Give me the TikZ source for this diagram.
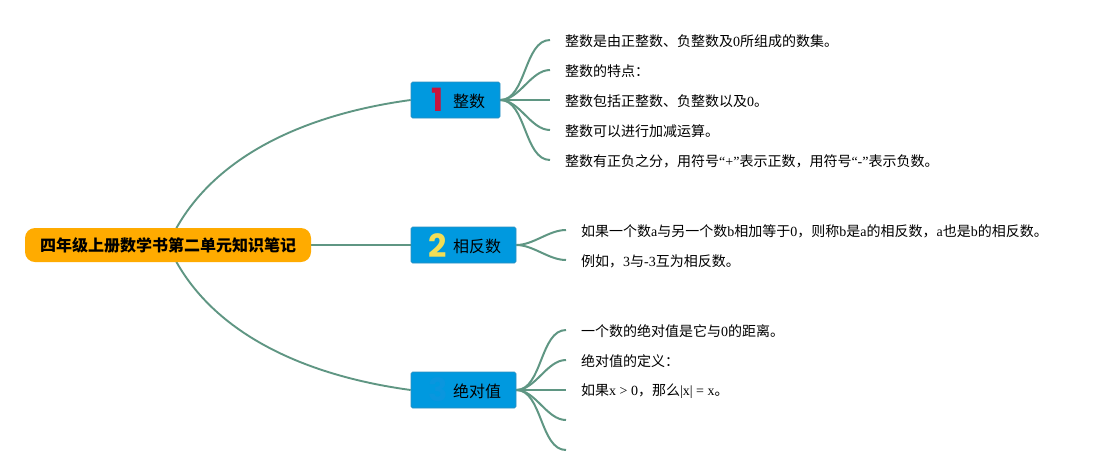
\documentclass[tikz,border=0pt]{standalone}
\usepackage{fontspec}
\setmainfont{Noto Sans CJK SC}
\newfontfamily\latfont{Liberation Serif}
\newfontfamily\iconfont{Poppins}[BoldFont={Poppins Bold}]
\newcommand{\lat}[1]{{\latfont #1}}
\usetikzlibrary{backgrounds}
\definecolor{rootfill}{HTML}{FFAB00}
\definecolor{topicfill}{HTML}{0099DF}
\definecolor{topicline}{HTML}{2E8FBF}
\definecolor{linkcol}{HTML}{5F9683}
\definecolor{iconred}{HTML}{C8143C}
\definecolor{iconyellow}{HTML}{F2DE55}
\definecolor{iconblue}{HTML}{0A96DE}
\tikzset{
  x=1pt,y=-1pt,
  rootbox/.style={fill=rootfill,rounded corners=10pt,minimum width=286pt,minimum height=34pt,inner sep=0pt,
    font=\fontsize{16}{16}\selectfont\bfseries,text=black},
  topicbox/.style={fill=topicfill,draw=topicline,line width=0.6pt,rounded corners=1.5pt,minimum height=36pt,inner sep=0pt},
  topiclabel/.style={font=\fontsize{16}{16}\selectfont,text=black,inner sep=0pt,anchor=west},
  iconmark/.style={font=\iconfont\bfseries\fontsize{32}{32}\selectfont,inner sep=0pt},
  leaf/.style={font=\fontsize{14}{14}\selectfont,text=black,anchor=west,inner ysep=0pt,inner xsep=15pt},
  mainlink/.style={draw=linkcol,line width=1.9pt},
  branch/.style={draw=linkcol,line width=2pt,out=0,in=180,looseness=0.85},
}
\begin{document}
\begin{tikzpicture}
\useasboundingbox (0,0) rectangle (1108,475);
% root and topics
\node[rootbox] (root) at (168,245) {四年级上册数学书第二单元知识笔记};
\node[topicbox,minimum width=89pt] (t1) at (455.5,100) {};
\node[topicbox,minimum width=105pt] (t2) at (463.5,245) {};
\node[topicbox,minimum width=105pt] (t3) at (463.5,390) {};
\node[topiclabel] (l1) at (453,101) {整数};
\node[topiclabel] (l2) at (453,246.5) {相反数};
\node[topiclabel] (l3) at (453,391.5) {绝对值};
\node[iconmark,text=iconred] (i1) at (438,100) {1};
\node[iconmark,text=iconyellow] (i2) at (438,246) {2};
\node[iconmark,text=iconblue] (i3) at (438,390) {3};
% leaves of topic 1
\node[leaf] (a1) at (550,41.5) {整数是由正整数、负整数及\lat{0}所组成的数集。};
\node[leaf] (a2) at (550,71.5) {整数的特点：};
\node[leaf] (a3) at (550,101.5) {整数包括正整数、负整数以及\lat{0}。};
\node[leaf] (a4) at (550,131.5) {整数可以进行加减运算。};
\node[leaf] (a5) at (550,161.5) {整数有正负之分，用符号\lat{“+”}表示正数，用符号\lat{“-”}表示负数。};
% leaves of topic 2
\node[leaf] (b1) at (566,231.5) {如果一个数\lat{a}与另一个数\lat{b}相加等于\lat{0}，则称\lat{b}是\lat{a}的相反数，\lat{a}也是\lat{b}的相反数。};
\node[leaf] (b2) at (566,261.5) {例如，\lat{3}与\lat{-3}互为相反数。};
% leaves of topic 3
\node[leaf] (c1) at (566,331.5) {一个数的绝对值是它与\lat{0}的距离。};
\node[leaf] (c2) at (566,361.5) {绝对值的定义：};
\node[leaf] (c3) at (566,391.5) {如果\lat{x > 0}，那么\lat{|x| = x}。};
\coordinate (c4) at (566,420);
\coordinate (c5) at (566,450);
\begin{scope}[on background layer]
\draw[mainlink] (root.center) .. controls (205,160) and (300,115) .. (t1.west);
\draw[mainlink] (root.center) -- (t2.west);
\draw[mainlink] (root.center) .. controls (205,330) and (300,375) .. (t3.west);
\foreach \k in {a1,a2,a3,a4,a5} \draw[branch] (t1.east) to ([yshift=1.5pt]\k.west);
\foreach \k in {b1,b2} \draw[branch] (t2.east) to ([yshift=1.5pt]\k.west);
\foreach \k in {c1,c2,c3} \draw[branch] (t3.east) to ([yshift=1.5pt]\k.west);
\foreach \k in {c4,c5} \draw[branch] (t3.east) to (\k);
\end{scope}
\end{tikzpicture}
\end{document}
